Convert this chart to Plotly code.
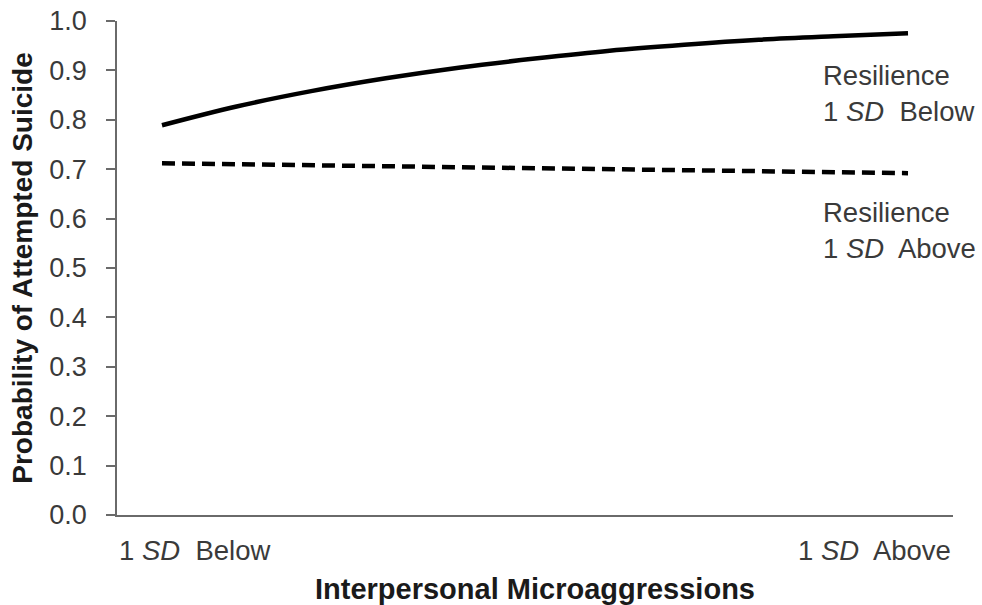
import plotly.graph_objects as go

# Data
microaggr = [0.0, 0.1, 0.2, 0.3, 0.4, 0.5, 0.6, 0.7, 0.8, 0.9, 1.0]  # 1 SD Below -> 1 SD Above
resil_below = [0.789, 0.827, 0.858, 0.884, 0.906, 0.924, 0.940, 0.952, 0.962, 0.969, 0.975]
resil_above = [0.712, 0.710, 0.708, 0.706, 0.704, 0.702, 0.700, 0.698, 0.696, 0.694, 0.692]
x_labels = ["1 <i>SD</i>  Below", "1 <i>SD</i>  Above"]
series_labels = ["Resilience<br>1 <i>SD</i>  Below", "Resilience<br>1 <i>SD</i>  Above"]
y_ticks = [0.0, 0.1, 0.2, 0.3, 0.4, 0.5, 0.6, 0.7, 0.8, 0.9, 1.0]

FONT = "Liberation Sans, Arial, sans-serif"
TXT = "#3a3a3a"
AX = "#6a6a6a"

fig = go.Figure()
fig.add_trace(go.Scatter(x=microaggr, y=resil_below, mode="lines",
                         line=dict(color="black", width=4.5, shape="spline"),
                         name="Resilience 1 SD Below", showlegend=False))
fig.add_trace(go.Scatter(x=microaggr, y=resil_above, mode="lines",
                         line=dict(color="black", width=4.5, dash="13px,7px"),
                         name="Resilience 1 SD Above", showlegend=False))

fig.update_layout(
    width=982, height=605,
    margin=dict(l=117, r=29, t=21, b=90, autoexpand=False),
    paper_bgcolor="white", plot_bgcolor="white",
    font=dict(family=FONT, color=TXT, size=27),
    showlegend=False,
)
fig.update_xaxes(range=[-0.0603, 1.0603], showgrid=False, zeroline=False,
                 automargin=False,
                 showline=True, linecolor=AX, linewidth=1.6,
                 showticklabels=False, ticks="",
                 title=dict(text="<b>Interpersonal Microaggressions</b>",
                            font=dict(size=29, color="#1a1a1a", family=FONT),
                            standoff=65))
fig.update_yaxes(range=[0, 1.0], tickvals=y_ticks,
                 ticktext=[f"{v:.1f}" for v in y_ticks],
                 automargin=False, ticklabeloverflow="allow",
                 showgrid=False, zeroline=False,
                 showline=True, linecolor=AX, linewidth=1.6,
                 ticks="outside", ticklen=9, tickwidth=1.6, tickcolor=AX,
                 ticklabelstandoff=14,
                 tickfont=dict(size=27, color=TXT, family=FONT),
                 title=dict(text="<b>Probability of Attempted Suicide</b>",
                            font=dict(size=28, color="#1a1a1a", family=FONT),
                            standoff=8))

# category labels under the axis
fig.add_annotation(x=0, y=0, xref="paper", yref="paper", xanchor="left", yanchor="top",
                   yshift=-18, text=x_labels[0], showarrow=False,
                   font=dict(size=27.5, color=TXT, family=FONT))
fig.add_annotation(x=1, y=0, xref="paper", yref="paper", xanchor="right", yanchor="top",
                   yshift=-18, text=x_labels[1], showarrow=False,
                   font=dict(size=27.5, color=TXT, family=FONT))

# series labels
fig.add_annotation(x=0.8425, y=0.854, xref="paper", yref="y", xanchor="left", yanchor="middle",
                   align="left", text=series_labels[0], showarrow=False,
                   font=dict(size=27.5, color=TXT, family=FONT))
fig.add_annotation(x=0.8425, y=0.575, xref="paper", yref="y", xanchor="left", yanchor="middle",
                   align="left", text=series_labels[1], showarrow=False,
                   font=dict(size=27.5, color=TXT, family=FONT))

# remove the browser's default 8px body margin so the figure fills the window exactly
fig.write_html("out.html", config={"displayModeBar": False},
               post_script="document.body.style.margin='0';")
